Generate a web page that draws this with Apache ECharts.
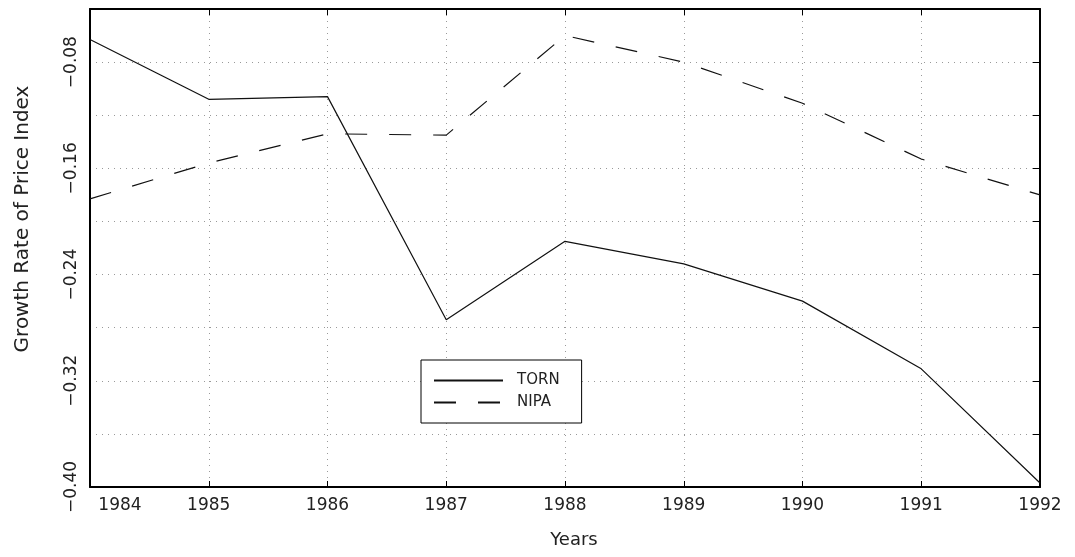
<!DOCTYPE html>
<html>
<head>
<meta charset="utf-8">
<script src="https://cdn.jsdelivr.net/npm/echarts@6/dist/echarts.min.js"></script>
<style>
  html, body { margin: 0; padding: 0; background: #fff; }
  #chart { width: 1075px; height: 557px; }
</style>
</head>
<body>
<div id="chart"></div>
<script>
// years on the x axis
const years = [1984, 1985, 1986, 1987, 1988, 1989, 1990, 1991, 1992];
// growth rate of price index
const torn = [-0.063, -0.108, -0.106, -0.274, -0.215, -0.232, -0.260, -0.311, -0.397];
const nipa = [-0.183, -0.156, -0.134, -0.135, -0.060, -0.080, -0.111, -0.153, -0.180];

const font = 'DejaVu Sans';
const pairs = (ys) => years.map((x, i) => [x, ys[i]]);

const chart = echarts.init(document.getElementById('chart'));

const option = {
  backgroundColor: '#fff',
  animation: false,
  grid: { left: 90, right: 35, top: 9, bottom: 70 },
  legend: {
    orient: 'vertical',
    left: 421,
    top: 360,
    padding: [13, 22, 13, 12],
    itemWidth: 69,
    itemHeight: 14,
    itemGap: 7,
    borderColor: '#000',
    borderWidth: 1,
    backgroundColor: '#fff',
    data: ['TORN', 'NIPA'],
    itemStyle: { opacity: 0 },
    textStyle: { fontFamily: font, fontSize: 15, color: '#222', padding: [0, 0, 0, 9] },
  },
  xAxis: [
    {
      type: 'value',
      min: 1984,
      max: 1992,
      interval: 1,
      name: 'Years',
      nameLocation: 'middle',
      nameGap: 44,
      nameTextStyle: { fontFamily: font, fontSize: 18, color: '#222', padding: [0, 0, 0, 18] },
      axisLine: { show: true, lineStyle: { color: '#000', width: 2 } },
      axisTick: { show: true, inside: true, length: 6, lineStyle: { color: '#000' } },
      axisLabel: {
        margin: 10,
        fontFamily: font,
        fontSize: 17,
        color: '#222',
        formatter: function (v) {
          return v === 1984 ? '{first|1984}' : String(v);
        },
        rich: {
          first: { fontFamily: font, fontSize: 17, color: '#222', padding: [0, 0, 0, 60] },
        },
      },
      splitLine: { show: true, lineStyle: { color: '#999', type: [1, 5], width: 1 } },
    },
    {
      type: 'value',
      position: 'top',
      min: 1984,
      max: 1992,
      interval: 1,
      axisLine: { show: true, lineStyle: { color: '#000', width: 2 } },
      axisTick: { show: true, inside: true, length: 6, lineStyle: { color: '#000' } },
      axisLabel: { show: false },
      splitLine: { show: false },
    },
  ],
  yAxis: [
    {
      type: 'value',
      min: -0.40,
      max: -0.04,
      interval: 0.04,
      name: 'Growth Rate of Price Index',
      nameLocation: 'middle',
      nameGap: 57,
      nameTextStyle: { fontFamily: font, fontSize: 20, color: '#222', padding: [0, 0, 0, 58] },
      axisLine: { show: true, lineStyle: { color: '#000', width: 2 } },
      axisTick: { show: false },
      axisLabel: {
        rotate: 90,
        margin: 10,
        fontFamily: font,
        fontSize: 17,
        color: '#222',
        formatter: function (v) {
          const k = Math.round(v * 100);
          if (k % 8 !== 0) return '';
          return '\u2212' + Math.abs(v).toFixed(2);
        },
      },
      splitLine: { show: true, lineStyle: { color: '#999', type: [1, 5], width: 1 } },
    },
    {
      type: 'value',
      position: 'right',
      min: -0.40,
      max: -0.04,
      interval: 0.04,
      axisLine: { show: true, lineStyle: { color: '#000', width: 2 } },
      axisTick: { show: true, inside: true, length: 7, lineStyle: { color: '#000' } },
      axisLabel: { show: false },
      splitLine: { show: false },
    },
  ],
  series: [
    {
      name: 'TORN',
      type: 'line',
      data: pairs(torn),
      symbol: 'none',
      lineStyle: { color: '#111', width: 1.2 },
      itemStyle: { color: '#111' },
    },
    {
      name: 'NIPA',
      type: 'line',
      data: pairs(nipa),
      symbol: 'none',
      lineStyle: { color: '#111', width: 1.2, type: [22, 22] },
      itemStyle: { color: '#111' },
    },
  ],
};

chart.setOption(option);
</script>
</body>
</html>
